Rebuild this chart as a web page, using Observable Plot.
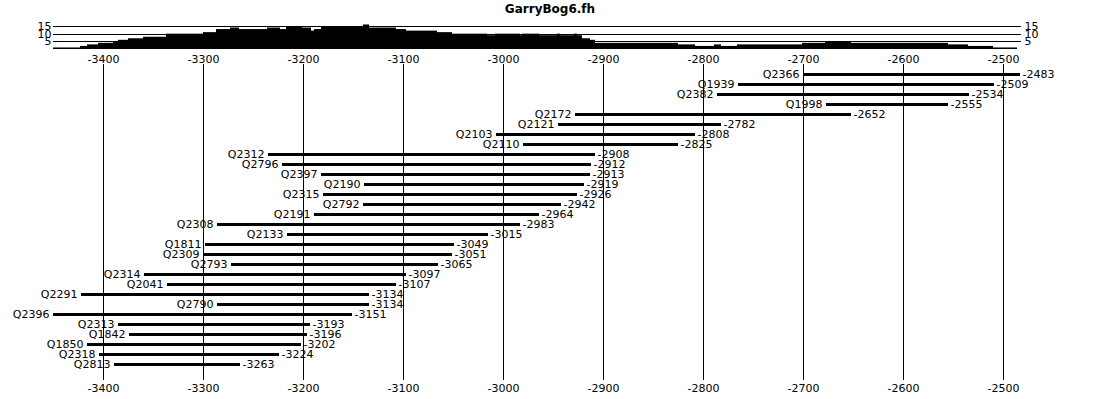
<!DOCTYPE html>
<html>
<head>
<meta charset="utf-8">
<script src="https://cdn.jsdelivr.net/npm/d3@7"></script>
<script src="https://cdn.jsdelivr.net/npm/@observablehq/plot@0.6"></script>
<style>
  html, body { margin: 0; padding: 0; background: #fff; }
  #wrap { position: relative; width: 1108px; height: 399px; overflow: hidden; background: #fff; }
  #wrap > svg { position: absolute; left: 0; top: 0; }
  #title { position: absolute; left: 0; top: 0; width: 1100px; text-align: center;
           font: bold 12px "DejaVu Sans", sans-serif; line-height: 18px; color: #000; }
</style>
</head>
<body>
<div id="wrap"><div id="title">GarryBog6.fh</div></div>
<script>
// ---- data ----
const names  = ["Q2366","Q1939","Q2382","Q1998","Q2172","Q2121","Q2103","Q2110","Q2312","Q2796","Q2397","Q2190","Q2315","Q2792","Q2191","Q2308","Q2133","Q1811","Q2309","Q2793","Q2314","Q2041","Q2291","Q2790","Q2396","Q2313","Q1842","Q1850","Q2318","Q2813"];
const starts = [-2700,-2765,-2786,-2677,-2928,-2945,-3007,-2980,-3235,-3221,-3182,-3139,-3180,-3140,-3189,-3286,-3216,-3298,-3300,-3272,-3359,-3336,-3422,-3286,-3450,-3385,-3374,-3416,-3404,-3389];
const ends   = [-2483,-2509,-2534,-2555,-2652,-2782,-2808,-2825,-2908,-2912,-2913,-2919,-2926,-2942,-2964,-2983,-3015,-3049,-3051,-3065,-3097,-3107,-3134,-3134,-3151,-3193,-3196,-3202,-3224,-3263];

const xTicks = [-3400,-3300,-3200,-3100,-3000,-2900,-2800,-2700,-2600,-2500];
const histTicks = [5,10,15];

const histStart = [-3450,-3423,-3416,-3405,-3390,-3385,-3375,-3360,-3337,-3300,-3287,-3273,-3264,-3236,-3223,-3217,-3201,-3192,-3189,-3182,-3140,-3134,-3107,-3097,-3066,-3051,-3016,-3008,-2983,-2981,-2964,-2946,-2943,-2929,-2926,-2921,-2913,-2908,-2825,-2808,-2789,-2782,-2766,-2701,-2678,-2652,-2555,-2535,-2510];
const histEnd   = [-3423,-3416,-3405,-3390,-3385,-3375,-3360,-3337,-3300,-3287,-3273,-3264,-3236,-3223,-3217,-3201,-3192,-3189,-3182,-3140,-3134,-3107,-3097,-3066,-3051,-3016,-3008,-2983,-2981,-2964,-2946,-2943,-2929,-2926,-2921,-2913,-2908,-2825,-2808,-2789,-2782,-2766,-2701,-2678,-2652,-2555,-2535,-2510,-2486];
const histCount = [1,2,3,4,5,6,7,8,10,11,13,14,13,14,13,15,14,12,13,15,16,14,13,12,11,10,9,10,9,10,9,10,9,10,9,7,6,4,3,2,3,2,3,4,5,4,3,2,1];

// ---- build tables ----
const rows = names.map((n, i) => ({name: n, start: starts[i], end: ends[i]}));
const hist = histCount.map((c, i) => ({x1: histStart[i], x2: histEnd[i], n: c}));

const font = {fontFamily: "'DejaVu Sans', sans-serif", fontSize: "11px", background: "transparent", color: "black"};

const gantt = Plot.plot({
  width: 1108, height: 399,
  marginTop: 64, marginBottom: 19, marginLeft: 0, marginRight: 0,
  style: font,
  x: {domain: [-3503, -2395]},
  y: {type: "point", domain: names, range: [74, 364], padding: 0, axis: null},
  marks: [
    Plot.gridX(xTicks, {stroke: "black", strokeOpacity: 1, shapeRendering: "crispEdges"}),
    Plot.axisX(xTicks, {anchor: "top", tickSize: 0, tickPadding: 2, tickFormat: d => String(d), fontSize: 11, fill: "black", label: null}),
    Plot.axisX(xTicks, {anchor: "bottom", tickSize: 0, tickPadding: 4, tickFormat: d => String(d), fontSize: 11, fill: "black", label: null}),
    Plot.ruleY(rows, {y: "name", x1: "start", x2: "end", stroke: "black", strokeWidth: 3}),
    Plot.text(rows, {y: "name", x: "start", text: "name", textAnchor: "end", dx: -4, fontSize: 11, fill: "black"}),
    Plot.text(rows, {y: "name", x: "end", text: d => String(d.end), textAnchor: "start", dx: 2, fontSize: 11, fill: "black"})
  ]
});

const histo = Plot.plot({
  width: 1108, height: 52,
  marginTop: 20, marginBottom: 3, marginLeft: 53, marginRight: 87,
  style: font,
  x: {domain: [-3450, -2482], axis: null},
  y: {domain: [0, 15], range: [49, 26], axis: null},
  marks: [
    Plot.rectY(hist, {x1: "x1", x2: "x2", y: "n", fill: "black"}),
    Plot.ruleY(histTicks, {stroke: "black", shapeRendering: "crispEdges"}),
    Plot.axisY(histTicks, {anchor: "left", tickSize: 0, tickPadding: 2, fontSize: 11, fill: "black", label: null}),
    Plot.axisY(histTicks, {anchor: "right", tickSize: 0, tickPadding: 3, fontSize: 11, fill: "black", label: null})
  ]
});

const wrap = document.getElementById("wrap");
wrap.insertBefore(gantt, wrap.firstChild);
wrap.insertBefore(histo, document.getElementById("title"));
</script>
</body>
</html>
